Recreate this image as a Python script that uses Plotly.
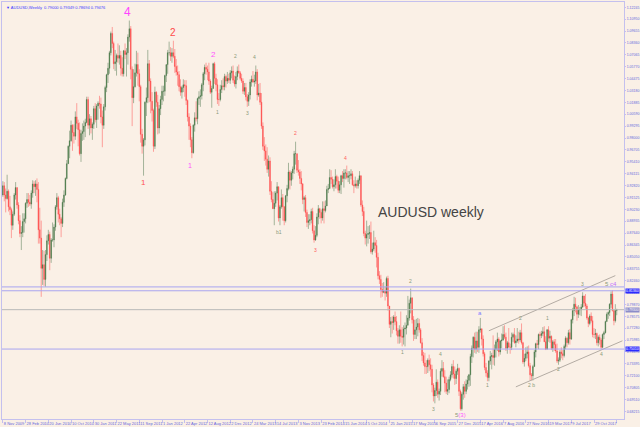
"""AUDUSD weekly candlestick chart with Elliott wave labels (MT4 style)."""

import pandas as pd
import plotly.graph_objects as go

# Weekly bars from 8 Nov 2009, prices in thousandths of a dollar (918 = 0.918)
first_open = 918
close_k = [
    928, 918, 914, 922, 905, 902, 885, 897,  # 2009
    918, 926, 907, 890, 876, 877, 889, 892, 909, 913, 910, 908, 920, 930, 927, 930, 924,
    880, 871, 838, 842, 826, 853, 868, 875, 849, 869, 869, 883, 905, 915, 897, 892, 887, 910,
    918, 936, 952, 971, 977, 994, 986, 982, 1003, 996, 989, 963, 985, 987, 993, 997, 1022,  # 2010
    994, 1001, 991, 995, 1012, 1000, 1015, 1018, 1017, 1003, 994, 1014, 1035, 1049, 1056, 1073, 1094,
    1083, 1061, 1063, 1070, 1067, 1070, 1056, 1050, 1075, 1071, 1073, 1090, 1099, 1055,
    1024, 1036, 1051, 1060, 1050, 1036, 984, 971, 978, 1019, 1024, 1061, 1042,
    1020, 1010, 971, 1030, 1019, 991, 1012, 1022,  # 2011
    1031, 1031, 1048, 1060, 1073, 1073, 1069, 1073, 1069, 1058, 1052, 1049, 1036,
    1030, 1035, 1038, 1037, 1021, 1003, 993, 978, 964, 994, 1002, 1001, 1023,
    1025, 1026, 1038, 1050, 1057, 1055, 1052, 1042, 1030, 1034, 1061, 1045, 1038, 1022,
    1022, 1033, 1037, 1036, 1047, 1042, 1045, 1043, 1051, 1053, 1043, 1039, 1047,  # 2012
    1053, 1051, 1045, 1042, 1031, 1035, 1025, 1020, 1027, 1041, 1044, 1041, 1042,
    1052, 1027, 1029, 1019, 993, 971, 966, 957, 946, 955, 922, 913, 903,
    909, 920, 927, 893, 905, 915, 905, 890, 917, 925, 943, 934, 942,
    946, 963, 963, 945, 943, 936, 930, 913, 915, 899, 888, 890, 891,  # 2013
    900, 879, 869, 874, 894, 903, 899, 893, 903, 901, 906, 924, 925,
    937, 935, 927, 929, 938, 933, 923, 929, 939, 936, 942, 942, 937,
    939, 939, 941, 929, 928, 930, 928, 934, 939, 907, 900, 876, 871,
    875, 876, 877, 856, 859, 866, 863, 850, 830, 826, 815, 812, 813,  # 2014
    811, 827, 797, 777, 780, 779, 785, 780, 770, 764, 771, 764, 763,
    772, 773, 776, 784, 800, 806, 782, 766, 771, 774, 778, 771, 757,
    743, 735, 731, 731, 738, 733, 728, 711, 699, 705, 714, 701, 704,
    726, 729, 720, 713, 704, 706, 717, 722, 731, 723, 718, 726, 729,  # 2015
    704, 685, 701, 709, 704, 712, 716, 722, 742, 751, 763, 750, 759,
    752, 771, 772, 761, 745, 730, 724, 719, 737, 742, 743, 741, 750,
    758, 761, 747, 759, 760, 766, 763, 751, 757, 752, 752, 763, 766,
    757, 759, 761, 760, 768, 757, 736, 740, 745, 747, 732, 722, 721,  # 2016
    731, 747, 756, 755, 766, 765, 767, 769, 758, 750, 771, 762, 764,
    751, 758, 755, 748, 737, 738, 747, 745, 743, 753, 762, 757, 768,
    761, 782, 792, 799, 796, 788, 793, 793, 796, 808, 800, 797, 784,
    778, 786, 781, 766, 766, 767, 757, 763, 760, 752, 766, 768, 780, 788,  # 2017
    790, 799, 810, 792, 781, 792, 793,  # 2018
]
high_k = [
    933, 932, 925, 940, 924, 917, 904, 900,
    920, 932, 926, 910, 896, 884, 898, 898, 910, 920, 920, 918, 923, 934, 933, 934, 936,
    932, 904, 890, 858, 857, 858, 874, 880, 878, 871, 888, 886, 907, 920, 917, 903, 894, 914,
    923, 937, 956, 972, 988, 999, 995, 995, 1009, 1018, 1000, 997, 989, 996, 999, 1001, 1025,
    1025, 1006, 1004, 997, 1015, 1018, 1017, 1020, 1026, 1024, 1010, 1017, 1037, 1050, 1062, 1075, 1096,
    1101, 1085, 1076, 1072, 1083, 1081, 1075, 1068, 1076, 1083, 1078, 1093, 1108, 1102,
    1058, 1055, 1061, 1075, 1073, 1055, 1038, 990, 980, 1020, 1035, 1076, 1065,
    1045, 1030, 1012, 1036, 1031, 1027, 1016, 1026,
    1037, 1037, 1049, 1060, 1076, 1085, 1079, 1078, 1086, 1077, 1066, 1059, 1053,
    1044, 1037, 1044, 1043, 1043, 1022, 1007, 996, 981, 995, 1008, 1020, 1024,
    1031, 1033, 1040, 1052, 1060, 1062, 1059, 1062, 1044, 1037, 1062, 1063, 1050, 1044,
    1029, 1038, 1043, 1045, 1050, 1049, 1052, 1050, 1054, 1058, 1059, 1048, 1052,
    1058, 1060, 1053, 1050, 1045, 1040, 1040, 1028, 1030, 1044, 1048, 1053, 1049,
    1059, 1055, 1039, 1040, 1029, 997, 981, 973, 970, 961, 959, 933, 921,
    922, 922, 932, 927, 907, 924, 919, 906, 918, 929, 953, 945, 944,
    949, 966, 976, 963, 956, 946, 944, 931, 917, 918, 902, 897, 897,
    903, 904, 885, 884, 898, 907, 904, 902, 911, 911, 912, 928, 930,
    946, 945, 938, 935, 946, 940, 938, 933, 940, 944, 946, 946, 950,
    944, 944, 946, 944, 934, 938, 934, 936, 944, 939, 912, 905, 879,
    890, 884, 885, 889, 866, 879, 872, 869, 855, 835, 831, 822, 823,
    818, 829, 830, 797, 785, 786, 787, 791, 786, 773, 776, 791, 774,
    776, 779, 787, 808, 804, 816, 806, 786, 782, 783, 784, 783, 773,
    762, 747, 746, 738, 740, 744, 740, 733, 713, 708, 728, 717, 707,
    729, 738, 736, 727, 720, 717, 720, 726, 734, 738, 731, 728, 734,
    730, 706, 703, 712, 715, 717, 721, 723, 745, 754, 764, 768, 769,
    769, 775, 784, 773, 765, 747, 735, 727, 738, 748, 746, 765, 755,
    760, 768, 763, 760, 767, 775, 776, 768, 759, 773, 756, 768, 768,
    773, 765, 773, 769, 771, 778, 758, 745, 752, 753, 754, 735, 724,
    733, 749, 757, 760, 767, 769, 770, 774, 775, 764, 772, 775, 770,
    765, 760, 761, 761, 756, 741, 749, 752, 749, 755, 764, 763, 771,
    772, 783, 795, 807, 806, 797, 798, 796, 799, 812, 808, 810, 799,
    785, 788, 790, 786, 773, 772, 768, 765, 766, 762, 767, 770, 781, 790,
    791, 800, 813, 814, 793, 799, 794,
]
low_k = [
    916, 911, 899, 913, 900, 896, 871, 880,
    895, 913, 903, 886, 872, 858, 872, 877, 887, 904, 905, 906, 903, 915, 920, 917, 910,
    865, 865, 807, 820, 819, 818, 846, 864, 836, 844, 867, 861, 879, 902, 888, 885, 872, 883,
    905, 917, 935, 952, 958, 976, 966, 974, 978, 990, 971, 961, 954, 977, 978, 981, 996,
    990, 983, 985, 978, 990, 997, 991, 1000, 1012, 996, 970, 990, 1010, 1030, 1040, 1050, 1070,
    1078, 1055, 1053, 1048, 1062, 1060, 1048, 1047, 1047, 1066, 1047, 1060, 1085, 1044,
    993, 1018, 1035, 1047, 1037, 1020, 975, 963, 939, 972, 1004, 1018, 1019,
    1007, 998, 965, 968, 1014, 984, 985, 1005,
    1016, 1020, 1026, 1041, 1050, 1070, 1064, 1062, 1067, 1051, 1048, 1037, 1031,
    1026, 1023, 1030, 1025, 1016, 998, 978, 970, 958, 963, 987, 998, 995,
    1016, 1014, 1022, 1031, 1043, 1049, 1043, 1038, 1028, 1013, 1034, 1039, 1031, 1017,
    1015, 1020, 1029, 1032, 1032, 1035, 1039, 1040, 1039, 1045, 1040, 1036, 1034,
    1043, 1050, 1043, 1040, 1028, 1027, 1021, 1014, 1015, 1022, 1036, 1040, 1036,
    1039, 1021, 1025, 1016, 990, 967, 955, 950, 942, 938, 918, 910, 903,
    885, 905, 912, 889, 885, 903, 890, 885, 888, 910, 923, 924, 928,
    935, 941, 951, 942, 939, 930, 923, 908, 900, 894, 883, 881, 885,
    887, 876, 866, 868, 872, 886, 892, 887, 890, 887, 899, 906, 920,
    925, 930, 925, 922, 925, 925, 920, 920, 919, 932, 926, 935, 935,
    932, 930, 935, 928, 920, 926, 925, 925, 930, 905, 895, 873, 864,
    862, 865, 870, 854, 853, 857, 855, 839, 826, 821, 806, 807, 811,
    803, 807, 792, 773, 763, 767, 771, 776, 765, 756, 756, 757, 753,
    755, 753, 766, 776, 781, 789, 778, 759, 761, 761, 764, 768, 756,
    737, 732, 723, 723, 724, 726, 720, 703, 693, 691, 699, 697, 694,
    700, 720, 719, 703, 701, 700, 702, 715, 719, 718, 711, 712, 722,
    699, 683, 683, 695, 697, 701, 706, 709, 710, 735, 741, 746, 745,
    747, 746, 768, 754, 742, 727, 720, 715, 715, 733, 728, 733, 732,
    741, 748, 742, 744, 751, 759, 761, 748, 745, 752, 745, 749, 758,
    756, 752, 757, 756, 758, 755, 734, 731, 737, 740, 730, 716, 716,
    716, 731, 741, 751, 750, 758, 762, 764, 758, 749, 750, 758, 757,
    749, 747, 748, 746, 735, 733, 736, 740, 738, 741, 750, 752, 755,
    755, 760, 778, 786, 790, 781, 784, 787, 786, 795, 796, 794, 782,
    774, 776, 779, 763, 762, 761, 754, 753, 755, 750, 751, 761, 767, 780,
    783, 786, 795, 791, 776, 779, 787,
]

# x axis tick labels (every 16 weeks) and price scale labels
tick_dates = [
    "2009-11-08", "2010-02-28", "2010-06-20", "2010-10-10", "2011-01-30", "2011-05-22",
    "2011-09-11", "2012-01-01", "2012-04-22", "2012-08-12", "2012-12-02", "2013-03-24",
    "2013-07-14", "2013-11-03", "2014-02-23", "2014-06-15", "2014-10-05", "2015-01-25",
    "2015-05-17", "2015-09-06", "2015-12-27", "2016-04-17", "2016-08-07", "2016-11-27",
    "2017-03-19", "2017-07-09", "2017-10-29", "2018-02-18",
]
tick_text = [
    "8 Nov 2009", "28 Feb 2010", "20 Jun 2010", "10 Oct 2010", "30 Jan 2011", "22 May 2011",
    "11 Sep 2011", "1 Jan 2012", "22 Apr 2012", "12 Aug 2012", "2 Dec 2012", "24 Mar 2013",
    "14 Jul 2013", "3 Nov 2013", "23 Feb 2014", "15 Jun 2014", "5 Oct 2014", "25 Jan 2015",
    "17 May 2015", "6 Sep 2015", "27 Dec 2015", "17 Apr 2016", "7 Aug 2016", "27 Nov 2016",
    "19 Mar 2017", "9 Jul 2017", "29 Oct 2017", "18 Feb 2018",
]
price_ticks = [
    1.12245, 1.10950, 1.09655, 1.08360, 1.07065, 1.05770, 1.04475, 1.03180, 1.01885,
    1.00590, 0.99295, 0.98000, 0.96705, 0.95410, 0.94115, 0.92820, 0.91525, 0.90230,
    0.88935, 0.87640, 0.86345, 0.85050, 0.83755, 0.82460, 0.81165, 0.79870, 0.78575,
    0.77280, 0.75985, 0.74690, 0.73395, 0.72100, 0.70805, 0.69510, 0.68215,
]

# wave count labels
wave_text = ["4", "2", "1", "2", "1", "2", "4", "1", "3", "2", "4", "b1", "3",
             "2", "1", "4", "3", "5<span style='color:#ff55ff'>(3)</span>", "a", "1", "2",
             "1", "2 b", "2", "3", "4", "5 <span style='color:#c070ff'>c4</span>"]
wave_date = ["2011-07-17", "2012-02-26", "2011-10-02", "2012-09-09", "2012-05-20",
             "2012-12-30", "2013-03-31", "2012-09-30", "2013-02-24", "2013-10-20",
             "2014-06-22", "2013-07-28", "2014-01-26", "2015-05-10", "2015-03-29",
             "2015-10-04", "2015-08-30", "2016-01-10", "2016-04-17", "2016-05-22",
             "2016-10-30", "2017-03-12", "2016-12-25", "2017-05-07", "2017-09-03",
             "2017-12-03", "2018-01-21"]
wave_price = [1.1173, 1.0954, 0.9316, 1.0714, 0.9502, 1.0692, 1.0681, 1.0081, 1.0070,
              0.9852, 0.9578, 0.8781, 0.8585, 0.8246, 0.7471, 0.7449, 0.6849, 0.6783,
              0.7897, 0.7111, 0.7842, 0.7842, 0.7111, 0.7285, 0.8214, 0.7449, 0.8214]
wave_color = ["#ff44ff", "#ff4a4a", "#ff5050", "#ff55ff", "#ff55ff", "#8a9a7a", "#8a9a7a",
              "#8a9a7a", "#8a9a7a", "#ff6060", "#ff6060", "#8a9a7a", "#ff6060",
              "#8a9a7a", "#8a9a7a", "#8a9a7a", "#8a9a7a", "#8a9a7a", "#7a7aff", "#8a9a7a",
              "#8a9a7a", "#8a9a7a", "#8a9a7a", "#8a9a7a", "#8a9a7a", "#8a9a7a", "#8a9a7a"]
wave_size = [12, 10, 8, 8, 7, 5, 5, 5, 5, 5, 5, 5, 5,
             5, 5, 5, 5, 6, 6, 5, 5, 5, 5, 5, 5, 5, 6]

# trend channel (date, price) and horizontal levels
upper_dates = ["2016-05-29", "2018-02-11"]
upper_prices = [0.7700, 0.8301]
lower_dates = ["2016-10-09", "2018-03-18"]
lower_prices = [0.7089, 0.7591]
level_prices = [0.8178, 0.8136, 0.7501]
boxed_levels = [0.8136, 0.7501]
last_price = 0.7930

closes = [v / 1000 for v in close_k]
highs = [v / 1000 for v in high_k]
lows = [v / 1000 for v in low_k]
opens = [first_open / 1000] + closes[:-1]
assert len(closes) == len(highs) == len(lows) == 433
dates = pd.date_range("2009-11-08", periods=len(closes), freq="7D")

start = pd.Timestamp("2009-11-08")
x_range = [start - pd.Timedelta(weeks=0.6), start + pd.Timedelta(weeks=437.1)]

BG = "#faf0e6"
AXIS = "#c4c0ee"
LABEL = "#6666dd"

fig = go.Figure()

fig.add_trace(
    go.Candlestick(
        x=dates,
        open=opens,
        high=highs,
        low=lows,
        close=closes,
        increasing=dict(line=dict(color="rgba(80,120,80,0.5)", width=1), fillcolor="#1f6a1f"),
        decreasing=dict(line=dict(color="rgba(255,80,80,0.5)", width=1), fillcolor="#ff2a2a"),
        whiskerwidth=0,
        showlegend=False,
        hoverinfo="skip",
    )
)

# channel lines
for d, p in ((upper_dates, upper_prices), (lower_dates, lower_prices)):
    fig.add_trace(
        go.Scatter(x=d, y=p, mode="lines", line=dict(color="#b4aca4", width=1),
                   showlegend=False, hoverinfo="skip")
    )

# horizontal levels with price boxes on the scale
for p in level_prices:
    fig.add_hline(y=p, line_color="#a8a4f0", line_width=1)
for p in boxed_levels:
    fig.add_annotation(x=1, xref="paper", y=p, yref="y", xanchor="left", yanchor="middle",
                       text=f"{p:.5f}", showarrow=False, bgcolor="#2a2aff", borderpad=0,
                       xshift=1, font=dict(size=3.5, color="white"))
fig.add_hline(y=last_price, line_color="#b8b8b8", line_width=1)
fig.add_annotation(x=1, xref="paper", y=last_price, yref="y", xanchor="left", yanchor="middle",
                   text=f"{last_price:.5f}", showarrow=False, bgcolor="#8c8cc8", borderpad=0,
                   xshift=1, font=dict(size=3.5, color="white"))

# wave labels
for t, d, p, c, s in zip(wave_text, wave_date, wave_price, wave_color, wave_size):
    fig.add_annotation(x=d, y=p, text=t, showarrow=False,
                       font=dict(size=s, color=c, family="Liberation Sans, Arial"))

fig.add_annotation(
    x=0.778, y=0.496, xref="paper", yref="paper", text="AUDUSD weekly", showarrow=False,
    font=dict(size=14, color="#444444", family="Liberation Sans, Arial"),
)
fig.add_annotation(
    x=0, y=1, xref="paper", yref="paper", xanchor="left", yanchor="top", xshift=2, yshift=-1,
    text="▼ AUDUSD,Weekly  0.79000 0.79349 0.78694 0.79476", showarrow=False,
    font=dict(size=4, color="#3a3aff", family="Liberation Sans, Arial"),
)

fig.update_layout(
    width=640,
    height=427,
    margin=dict(l=2, r=16, t=2, b=8, autoexpand=False),
    plot_bgcolor=BG,
    paper_bgcolor=BG,
    font=dict(family="Liberation Sans, Arial"),
    showlegend=False,
    xaxis=dict(
        type="date",
        range=x_range,
        rangeslider=dict(visible=False),
        showgrid=False,
        zeroline=False,
        showline=True,
        mirror=True,
        linecolor=AXIS,
        linewidth=1,
        ticks="outside",
        ticklen=3,
        tickcolor=AXIS,
        tickvals=tick_dates,
        ticktext=tick_text,
        tickangle=0,
        automargin=False,
        ticklabelposition="outside right",
        tickfont=dict(size=4, color=LABEL),
    ),
    yaxis=dict(
        side="right",
        range=[0.6739, 1.1282],
        showgrid=False,
        zeroline=False,
        showline=True,
        mirror=True,
        linecolor=AXIS,
        linewidth=1,
        ticks="outside",
        ticklen=1,
        tickcolor=AXIS,
        automargin=False,
        tickvals=price_ticks,
        ticktext=[f"{v:.5f}" for v in price_ticks],
        tickfont=dict(size=3.5, color=LABEL),
    ),
)

# the page body has a default 8px margin; drop it so the 640x427 figure fills the window
fig.write_html(
    "out.html",
    config={"displayModeBar": False},
    post_script=f"document.body.style.margin='0';document.body.style.overflow='hidden';"
    f"document.body.style.background='{BG}';",
)
